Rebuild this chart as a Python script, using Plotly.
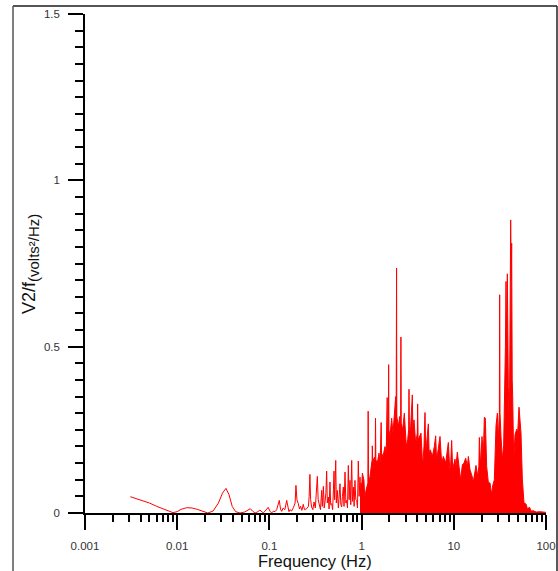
import plotly.graph_objects as go

# ---- data ----
freq_low = [0.0031, 0.0040, 0.0050, 0.0060, 0.0070, 0.0080, 0.0090, 0.0100, 0.0110, 0.0127,
            0.0145, 0.0165, 0.0190, 0.0215, 0.0245, 0.0280, 0.0310, 0.0338, 0.0365, 0.0395,
            0.0430, 0.0480, 0.0540, 0.0580, 0.0620, 0.0660, 0.0700, 0.0750, 0.0790, 0.0830,
            0.0860, 0.0900, 0.0970, 0.1020, 0.1060, 0.1110, 0.1150, 0.1200, 0.1280, 0.1320,
            0.1360, 0.1410, 0.1470, 0.1540, 0.1590, 0.1630, 0.1670, 0.1740, 0.1820, 0.1900,
            0.1940, 0.1990, 0.2060, 0.2120, 0.2180, 0.2250, 0.2330, 0.2400, 0.2540, 0.2650,
            0.2700, 0.2750, 0.2800, 0.2870, 0.2960, 0.3050, 0.3150, 0.3250, 0.3310, 0.3380,
            0.3480, 0.3580, 0.3690, 0.3750, 0.3850, 0.3930, 0.4010, 0.4100, 0.4180, 0.4250,
            0.4360, 0.4440, 0.4540, 0.4620, 0.4740, 0.4850, 0.4950, 0.5020, 0.5100, 0.5240,
            0.5320, 0.5450, 0.5600, 0.5830, 0.5950, 0.6080, 0.6200, 0.6340, 0.6450, 0.6610,
            0.6750, 0.6890, 0.7030, 0.7180, 0.7320, 0.7480, 0.7630, 0.7810, 0.7960, 0.8130,
            0.8300, 0.8470, 0.8650, 0.8850, 0.9020, 0.9210, 0.9400, 0.9610]
power_low = [0.049, 0.040, 0.030, 0.020, 0.012, 0.006, 0.001, 0.004, 0.011, 0.016,
             0.015, 0.011, 0.004, 0.000, 0.006, 0.030, 0.060, 0.074, 0.055, 0.020,
             0.004, 0.000, 0.003, 0.008, 0.013, 0.005, 0.000, 0.004, 0.009, 0.003,
             0.001, 0.006, 0.017, 0.004, 0.001, 0.005, 0.004, 0.010, 0.038, 0.012,
             0.005, 0.015, 0.010, 0.038, 0.012, 0.004, 0.010, 0.006, 0.016, 0.030,
             0.083, 0.040, 0.028, 0.012, 0.020, 0.008, 0.026, 0.010, 0.013, 0.020,
             0.050, 0.116, 0.040, 0.018, 0.010, 0.033, 0.015, 0.060, 0.110, 0.040,
             0.023, 0.010, 0.068, 0.020, 0.080, 0.015, 0.033, 0.060, 0.126, 0.030,
             0.048, 0.012, 0.093, 0.025, 0.028, 0.010, 0.070, 0.126, 0.040, 0.158,
             0.030, 0.068, 0.015, 0.088, 0.025, 0.018, 0.050, 0.078, 0.020, 0.123,
             0.030, 0.038, 0.015, 0.143, 0.040, 0.098, 0.025, 0.158, 0.035, 0.078,
             0.020, 0.098, 0.040, 0.038, 0.015, 0.156, 0.050, 0.108]

freq_high = [0.961, 0.975, 0.985, 1.002, 1.020, 1.044, 1.061, 1.075, 1.089, 1.116,
             1.135, 1.170, 1.178, 1.188, 1.233, 1.280, 1.300, 1.307, 1.320, 1.363,
             1.405, 1.415, 1.428, 1.481, 1.544, 1.590, 1.630, 1.645, 1.707, 1.794,
             1.850, 1.895, 1.910, 1.950, 1.965, 1.980, 2.032, 2.119, 2.190, 2.265,
             2.342, 2.370, 2.395, 2.410, 2.503, 2.588, 2.650, 2.670, 2.690, 2.789,
             2.908, 3.056, 3.160, 3.240, 3.267, 3.300, 3.406, 3.549, 3.600, 3.701,
             3.858, 4.020, 4.056, 4.100, 4.229, 4.408, 4.596, 4.750, 4.871, 4.950,
             5.078, 5.294, 5.400, 5.566, 5.851, 6.150, 6.359, 6.500, 6.683, 7.085,
             7.386, 7.701, 8.162, 8.724, 9.000, 9.171, 9.482, 9.700, 9.886, 10.30,
             10.56, 10.92, 11.39, 11.87, 12.38, 12.90, 13.45, 14.02, 14.38, 14.99,
             15.62, 16.29, 16.98, 17.41, 18.15, 18.70, 18.92, 19.20, 19.56, 20.22,
             20.91, 21.44, 21.98, 22.72, 23.69, 24.70, 25.75, 26.40, 27.52, 28.70,
             29.67, 30.41, 31.20, 31.45, 31.70, 32.51, 33.60, 34.74, 35.92, 36.30,
             36.83, 37.50, 38.07, 38.50, 39.04, 40.03, 40.60, 41.39, 42.00, 42.44,
             43.00, 43.52, 44.62, 46.13, 48.09, 49.30, 50.96, 52.26, 53.58, 55.38,
             57.73, 60.69, 63.27, 65.96, 69.34, 72.29, 78.57, 85.36, 99.5]
power_high = [0.108, 0.050, 0.090, 0.078, 0.120, 0.100, 0.098, 0.060, 0.050, 0.068,
              0.075, 0.090, 0.306, 0.090, 0.110, 0.140, 0.160, 0.202, 0.150, 0.165,
              0.170, 0.285, 0.160, 0.150, 0.180, 0.150, 0.272, 0.180, 0.170, 0.200,
              0.180, 0.347, 0.220, 0.270, 0.446, 0.250, 0.230, 0.285, 0.240, 0.300,
              0.350, 0.280, 0.736, 0.290, 0.260, 0.290, 0.250, 0.529, 0.270, 0.250,
              0.300, 0.200, 0.220, 0.250, 0.372, 0.240, 0.260, 0.355, 0.250, 0.280,
              0.210, 0.240, 0.328, 0.220, 0.230, 0.240, 0.140, 0.200, 0.302, 0.190,
              0.210, 0.268, 0.180, 0.190, 0.170, 0.200, 0.232, 0.160, 0.180, 0.230,
              0.150, 0.170, 0.150, 0.212, 0.140, 0.120, 0.218, 0.140, 0.140, 0.162,
              0.140, 0.183, 0.140, 0.100, 0.145, 0.150, 0.165, 0.140, 0.170, 0.130,
              0.115, 0.095, 0.125, 0.143, 0.110, 0.140, 0.227, 0.150, 0.140, 0.230,
              0.170, 0.288, 0.285, 0.140, 0.092, 0.090, 0.055, 0.082, 0.100, 0.262,
              0.300, 0.220, 0.300, 0.656, 0.300, 0.230, 0.160, 0.205, 0.380, 0.500,
              0.696, 0.500, 0.719, 0.450, 0.380, 0.250, 0.500, 0.881, 0.700, 0.811,
              0.400, 0.350, 0.160, 0.235, 0.252, 0.240, 0.318, 0.275, 0.240, 0.102,
              0.030, 0.027, 0.010, 0.018, 0.005, 0.007, 0.003, 0.004, 0.002]

x_major = [0.001, 0.01, 0.1, 1, 10, 100]
x_major_text = ["0.001", "0.01", "0.1", "1", "10", "100"]
x_minor = [m * d for d in [0.001, 0.01, 0.1, 1, 10] for m in range(2, 10)]
y_major = [0, 0.5, 1, 1.5]
y_major_text = ["0", "0.5", "1", "1.5"]

RED = "#ff0000"
FONT = "Liberation Sans, Arial, sans-serif"

fig = go.Figure()
fig.add_trace(go.Scatter(x=freq_low, y=power_low, mode="lines",
                         line=dict(color=RED, width=1), showlegend=False))
fig.add_trace(go.Scatter(x=freq_high, y=power_high, mode="lines",
                         line=dict(color=RED, width=1), fill="tozeroy",
                         fillcolor=RED, showlegend=False))

W, H = 558, 571
L, R, T, B = 85, 12, 14, 58
pw, ph = W - L - R, H - T - B


def px(x):
    return (x - L) / pw


def py(y):
    return (H - B - y) / ph


frame_color = "#555555"
shapes = [
    dict(type="line", xref="paper", yref="paper", x0=px(13), x1=px(13), y0=py(6), y1=py(575),
         line=dict(color=frame_color, width=1.5)),
    dict(type="line", xref="paper", yref="paper", x0=px(13), x1=px(557), y0=py(6), y1=py(6),
         line=dict(color=frame_color, width=2)),
    dict(type="line", xref="paper", yref="paper", x0=px(557), x1=px(557), y0=py(6), y1=py(575),
         line=dict(color="#222222", width=1.5)),
]

fig.update_layout(
    width=W, height=H, autosize=False,
    margin=dict(l=L, r=R, t=T, b=B, pad=0, autoexpand=False),
    paper_bgcolor="white", plot_bgcolor="white",
    font=dict(family=FONT, color="#333333"),
    shapes=shapes,
    xaxis=dict(type="log", range=[-3, 2], showgrid=False, zeroline=False,
               showline=True, linecolor="black", linewidth=1.5,
               tickmode="array", tickvals=x_major, ticktext=x_major_text,
               ticks="outside", ticklen=15, tickwidth=1.5, tickcolor="black",
               tickfont=dict(size=11.5, family=FONT, color="#333333"),
               ticklabelstandoff=6, automargin=False,
               minor=dict(tickmode="array", tickvals=x_minor, ticks="outside",
                          ticklen=7, tickwidth=1.5, tickcolor="black", showgrid=False)),
    yaxis=dict(range=[0, 1.5], showgrid=False, zeroline=False,
               showline=True, linecolor="black", linewidth=1.5,
               tickmode="array", tickvals=y_major, ticktext=y_major_text,
               ticks="outside", ticklen=15, tickwidth=1.5, tickcolor="black",
               tickfont=dict(size=11.5, family=FONT, color="#333333"),
               ticklabelstandoff=6, automargin=False,
               minor=dict(dtick=0.05, tick0=0, ticks="outside", ticklen=8,
                          tickwidth=1.5, tickcolor="black", showgrid=False)),
    annotations=[
        dict(text="Frequency (Hz)", xref="paper", yref="paper", x=px(315), y=py(561),
             xanchor="center", yanchor="middle", showarrow=False,
             font=dict(size=16.5, family=FONT, color="#111111")),
        dict(text="V2/f<sub><span style='font-size:15px'>(volts²/Hz)</span></sub>",
             xref="paper", yref="paper",
             x=px(30), y=py(264), xanchor="center", yanchor="middle", textangle=-90,
             showarrow=False, font=dict(size=18, family=FONT, color="#111111")),
    ],
)

fig.write_html("out.html")
